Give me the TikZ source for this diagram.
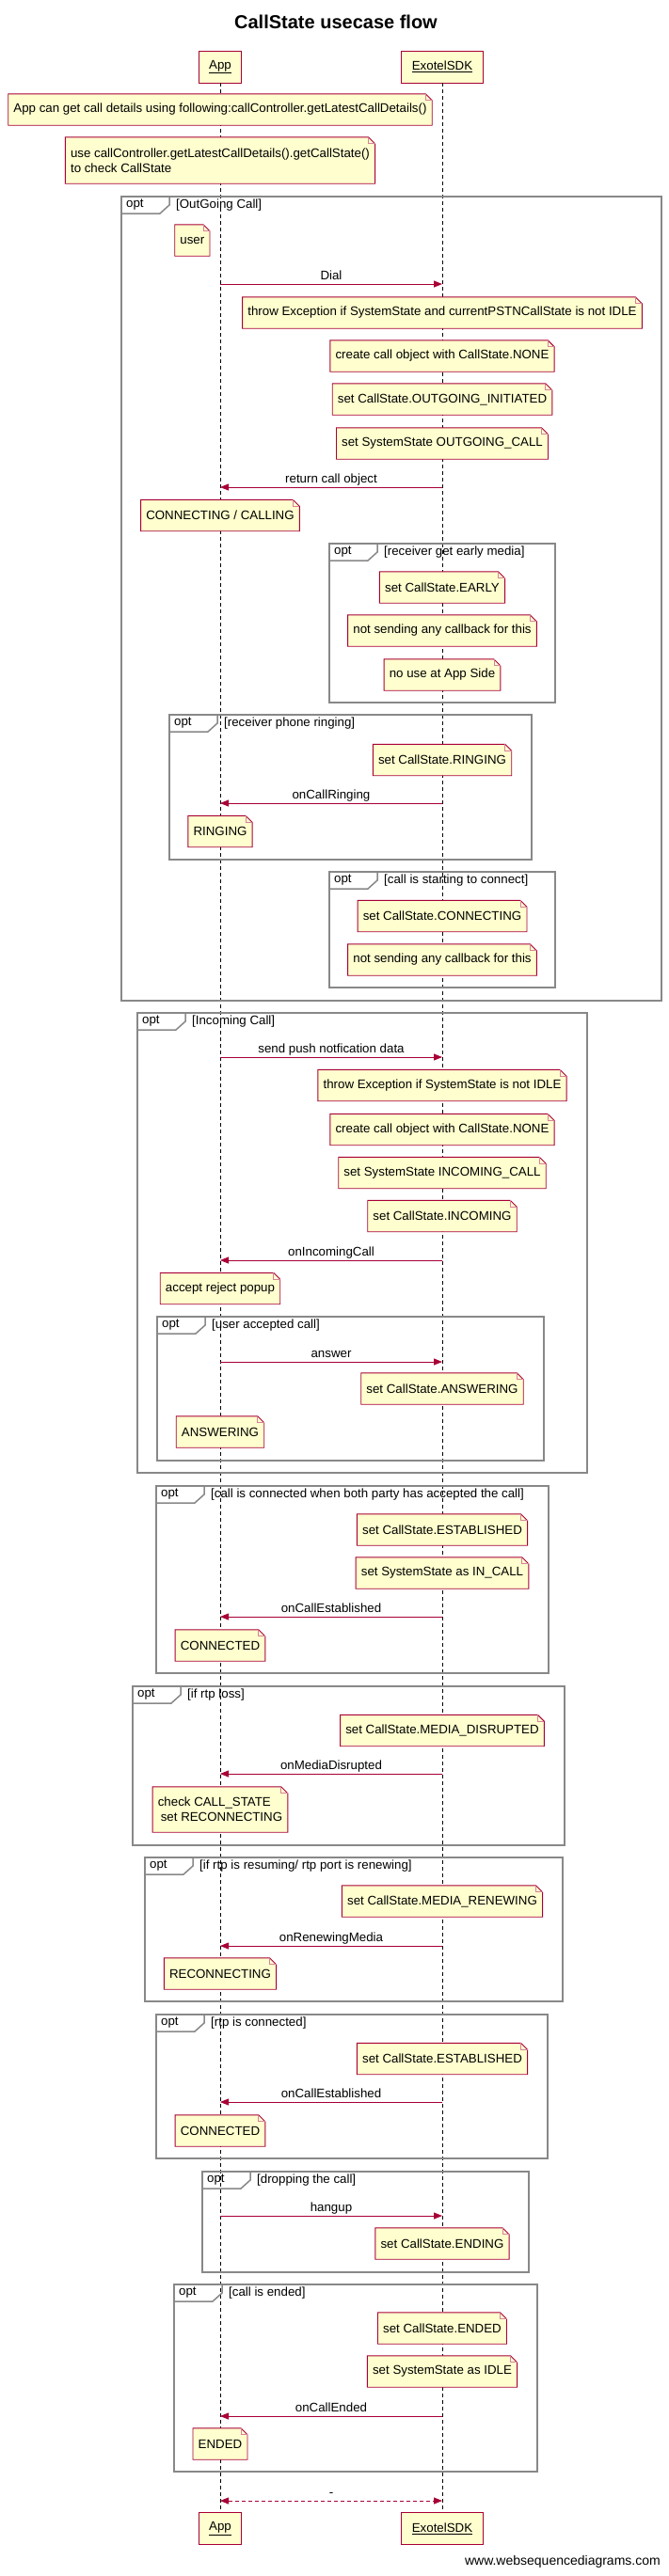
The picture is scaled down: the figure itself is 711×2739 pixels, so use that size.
\documentclass[tikz,border=0pt]{standalone}
\usepackage{fontspec}
\setmainfont{Liberation Sans}
\usetikzlibrary{arrows.meta}

\definecolor{crimson}{RGB}{168,0,54}
\definecolor{notefill}{RGB}{254,254,206}
\definecolor{framegray}{RGB}{136,136,136}
\definecolor{foldpink}{RGB}{214,130,158}

\tikzset{
  every node/.style={font=\fontsize{13.3}{16}\selectfont},
  actor/.style={draw=crimson, fill=notefill, line width=0.9pt, minimum height=34pt, inner xsep=11pt},
  lifeline/.style={black, line width=0.8pt, dash pattern=on 4pt off 3pt},
  note/.style={minimum height=33pt, inner xsep=5.5pt, align=left,
    append after command={\pgfextra{%
      \filldraw[fill=notefill, draw=crimson, line width=0.9pt] (\tikzlastnode.north west)
        -- ([xshift=-7pt]\tikzlastnode.north east)
        -- ([yshift=-7pt]\tikzlastnode.north east) -- (\tikzlastnode.south east)
        -- (\tikzlastnode.south west) -- cycle;
      \draw[foldpink, line width=0.8pt] ([xshift=-7pt]\tikzlastnode.north east)
        |- ([yshift=-7pt]\tikzlastnode.north east);
    }}},
  msg/.style={draw=crimson, line width=0.9pt, -{Triangle[length=9pt,width=7pt]}},
  reply/.style={msg, {Triangle[length=9pt,width=7pt]}-{Triangle[length=9pt,width=7pt]}, dash pattern=on 4pt off 3pt},
  msglabel/.style={above, inner sep=1pt, text height=9.5pt, text depth=2.8pt},
  frame/.style={draw=framegray, line width=1.5pt},
  framelabel/.style={anchor=west, inner sep=3pt}
}

% opt frame: x1, y1, x2, y2, guard
\newcommand{\optframe}[5]{%
  \draw[frame] (#1,#2) rectangle (#3,#4);
  \draw[frame] (#1,#2+18) -- (#1+41,#2+18) -- (#1+51,#2+9) -- (#1+51,#2);
  \node[framelabel] at (#1+2,#2+9) {opt};
  \node[framelabel] at (#1+55,#2+9) {[#5]};
}

\begin{document}
\begin{tikzpicture}[x=1pt,y=-1pt]
  \useasboundingbox (0,0) rectangle (711,2739);

  \node[font=\bfseries\fontsize{20}{24}\selectfont] (title) at (357,23) {CallState usecase flow};

  % participants
  \node[actor] (appTop) at (234,71)     {\underline{App}};
  \node[actor] (sdkTop) at (470,71)     {\underline{ExotelSDK}};
  \node[actor] (appBot) at (234,2688.5) {\underline{App}};
  \node[actor] (sdkBot) at (470,2688.5) {\underline{ExotelSDK}};

  \draw[lifeline] (appTop) -- (appBot);
  \draw[lifeline] (sdkTop) -- (sdkBot);

  % frames
  \optframe{129}{209}{703}{1064}{OutGoing Call}
  \optframe{350}{578}{590}{747}{receiver get early media}
  \optframe{180}{760}{565}{914}{receiver phone ringing}
  \optframe{350}{927}{590}{1050}{call is starting to connect}
  \optframe{146}{1077}{624}{1566}{Incoming Call}
  \optframe{167}{1400}{578}{1553}{user accepted call}
  \optframe{166}{1580}{583}{1779}{call is connected when both party has accepted the call}
  \optframe{141}{1793}{600}{1962}{if rtp loss}
  \optframe{154}{1975}{598}{2128}{if rtp is resuming/ rtp port is renewing}
  \optframe{166}{2142}{582}{2295}{rtp is connected}
  \optframe{215}{2309}{562}{2416}{dropping the call}
  \optframe{185}{2429}{571}{2628}{call is ended}

  % notes on App
  \begin{scope}[every node/.append style={note}]
    \node (nLatest)   at (234,116.5) {App can get call details using following:callController.getLatestCallDetails()};
    \node[minimum height=49pt] (nUsage) at (234,170.5) {use callController.getLatestCallDetails().getCallState()\\to check CallState};
    \node[anchor=east] (nUser) at (223,255.5) {user};
    \node (nCalling)  at (234,548)    {CONNECTING / CALLING};
    \node (nRingApp)  at (234,884)    {RINGING};
    \node (nPopup)    at (234,1370)   {accept reject popup};
    \node (nAnsApp)   at (234,1522.5) {ANSWERING};
    \node (nConnApp)  at (234,1749.5) {CONNECTED};
    \node[minimum height=48pt] (nCheck) at (234,1924) {check CALL\_STATE\\\hspace*{3pt}set RECONNECTING};
    \node (nReconn)   at (234,2098.5) {RECONNECTING};
    \node (nConnApp2) at (234,2265.5) {CONNECTED};
    \node (nEndApp)   at (234,2598.5) {ENDED};
  \end{scope}

  % notes on ExotelSDK
  \begin{scope}[every node/.append style={note}]
    \node (nThrowOut)  at (470,332.5)  {throw Exception if SystemState and currentPSTNCallState is not IDLE};
    \node (nCreateOut) at (470,378.5)  {create call object with CallState.NONE};
    \node (nInit)      at (470,424.5)  {set CallState.OUTGOING\_INITIATED};
    \node (nSysOut)    at (470,471.5)  {set SystemState OUTGOING\_CALL};
    \node (nEarly)     at (470,624.5)  {set CallState.EARLY};
    \node (nNoCb)      at (470,670.5)  {not sending any callback for this};
    \node (nNoUse)     at (470,717.5)  {no use at App Side};
    \node (nRinging)   at (470,808)    {set CallState.RINGING};
    \node (nConnecting) at (470,974)   {set CallState.CONNECTING};
    \node (nNoCb2)     at (470,1020.5) {not sending any callback for this};
    \node (nThrowIn)   at (470,1154)   {throw Exception if SystemState is not IDLE};
    \node (nCreateIn)  at (470,1201)   {create call object with CallState.NONE};
    \node (nSysIn)     at (470,1247)   {set SystemState INCOMING\_CALL};
    \node (nIncoming)  at (470,1293)   {set CallState.INCOMING};
    \node (nAnswering) at (470,1476.5) {set CallState.ANSWERING};
    \node (nEstab)     at (470,1626.5) {set CallState.ESTABLISHED};
    \node (nInCall)    at (470,1672.5) {set SystemState as IN\_CALL};
    \node (nDisrupt)   at (470,1840)   {set CallState.MEDIA\_DISRUPTED};
    \node (nRenew)     at (470,2021.5) {set CallState.MEDIA\_RENEWING};
    \node (nEstab2)    at (470,2189)   {set CallState.ESTABLISHED};
    \node (nEnding)    at (470,2385.5) {set CallState.ENDING};
    \node (nEnded)     at (470,2475.5) {set CallState.ENDED};
    \node (nIdle)      at (470,2521.5) {set SystemState as IDLE};
  \end{scope}

  % messages
  \foreach \y/\txt in {302/Dial, 1124/send push notfication data, 1448/answer, 2356/hangup} {
    \coordinate (a\y) at (234,\y);
    \coordinate (s\y) at (470,\y);
    \draw[msg] (a\y) -- node[msglabel] {\txt} (s\y);
  }
  \foreach \y/\txt in {518/return call object, 854/onCallRinging, 1340/onIncomingCall,
      1719/onCallEstablished, 1886/onMediaDisrupted, 2069/onRenewingMedia,
      2235/onCallEstablished, 2569/onCallEnded} {
    \coordinate (a\y) at (234,\y);
    \coordinate (s\y) at (470,\y);
    \draw[msg] (s\y) -- node[msglabel] {\txt} (a\y);
  }
  \coordinate (aEnd) at (234,2659);
  \coordinate (sEnd) at (470,2659);
  \draw[reply] (aEnd) -- node[msglabel] {-} (sEnd);

  \node[anchor=east, inner sep=0pt, font=\fontsize{14}{16}\selectfont] (footer) at (702,2724) {www.websequencediagrams.com};
\end{tikzpicture}
\end{document}
